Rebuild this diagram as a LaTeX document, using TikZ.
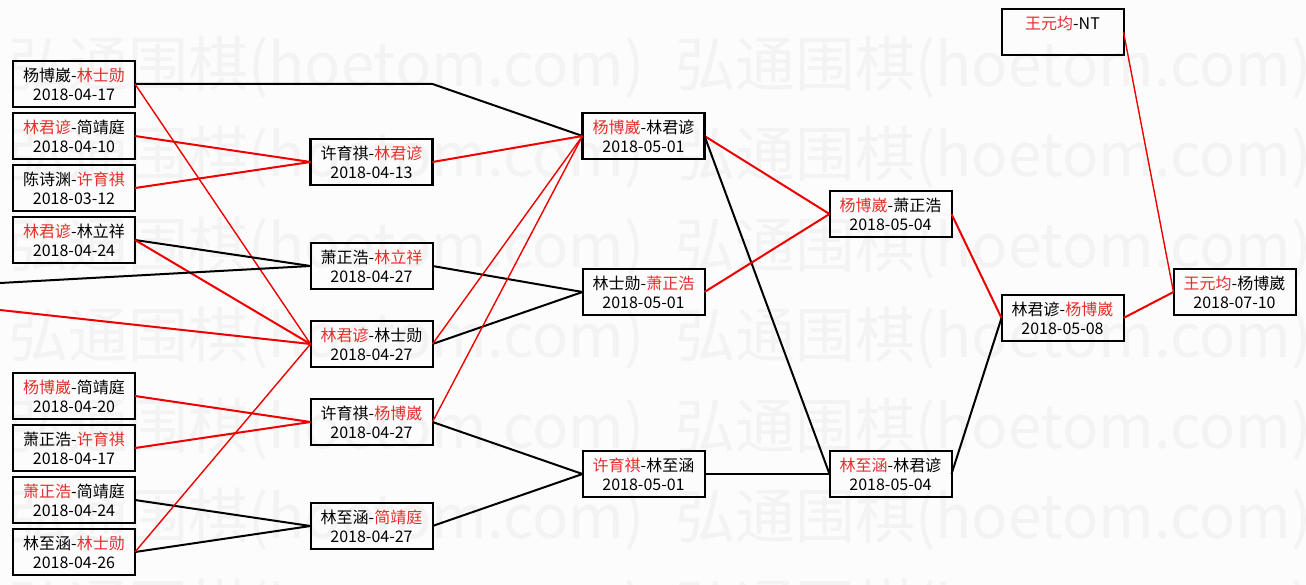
\documentclass[tikz,border=0pt]{standalone}
\usepackage{fontspec}
\setmainfont{Noto Sans CJK SC}
\usepackage{xcolor}
\usepackage{tikz}
\usetikzlibrary{positioning}
\definecolor{lineRed}{HTML}{EE0000}
\definecolor{nameRed}{HTML}{E62E2E}
\definecolor{paperGrey}{HTML}{FCFCFC}
\definecolor{markGrey}{HTML}{F3F3F3}
\newcommand\wn[1]{\textcolor{nameRed}{#1}}

\begin{document}
\begin{tikzpicture}[x=1pt,y=-1pt,
      node distance=6pt,
      game/.style={draw=black,line width=2pt,minimum width=122pt,minimum height=46pt,
        inner sep=0pt,outer sep=0pt,align=center,font=\fontsize{16}{19}\selectfont},
      gamebold/.style={game,line width=2.6pt},
      wmark/.style={anchor=west,inner sep=0pt,text=markGrey,font=\fontsize{60}{60}\selectfont},
      win/.style={draw=lineRed,line width=2pt},
      winthin/.style={draw=lineRed,line width=1.4pt},
      lose/.style={draw=black,line width=2pt}]
    \fill[paperGrey] (0,0) rectangle (1306,585);
    \useasboundingbox (0,0) rectangle (1306,585);
    \begin{scope}
      \clip (0,0) rectangle (1306,585);
      \foreach \r in {0,...,6}
        \foreach \c in {0,1}
          \node[wmark] (wm\r\c) at ({8+667*\c},{67+90.5*\r}) {弘通围棋(hoetom.com)};
    \end{scope}
    \node[gamebold] (a1) at (74,84) {杨博崴-\wn{林士勋}\\2018-04-17};
    \node[gamebold,below=of a1] (a2) {\wn{林君谚}-简靖庭\\2018-04-10};
    \node[gamebold,below=of a2] (a3) {陈诗渊-\wn{许育祺}\\2018-03-12};
    \node[gamebold,below=of a3] (a4) {\wn{林君谚}-林立祥\\2018-04-24};
    \node[game] (a5) at (74,396) {\wn{杨博崴}-简靖庭\\2018-04-20};
    \node[game,below=of a5] (a6) {萧正浩-\wn{许育祺}\\2018-04-17};
    \node[game,below=of a6] (a7) {\wn{萧正浩}-简靖庭\\2018-04-24};
    \node[game,below=of a7] (a8) {林至涵-\wn{林士勋}\\2018-04-26};
    \node[gamebold] (b1) at (371.5,162) {许育祺-\wn{林君谚}\\2018-04-13};
    \node[game] (b2) at (371.5,266) {萧正浩-\wn{林立祥}\\2018-04-27};
    \node[game] (b3) at (371.5,344) {\wn{林君谚}-林士勋\\2018-04-27};
    \node[game] (b4) at (371.5,422) {许育祺-\wn{杨博崴}\\2018-04-27};
    \node[game] (b5) at (371.5,526) {林至涵-\wn{简靖庭}\\2018-04-27};
    \node[gamebold] (c1) at (643.5,136) {\wn{杨博崴}-林君谚\\2018-05-01};
    \node[game] (c2) at (643.5,292) {林士勋-\wn{萧正浩}\\2018-05-01};
    \node[game] (c3) at (643.5,474) {\wn{许育祺}-林至涵\\2018-05-01};
    \node[game] (d1) at (890.5,214) {\wn{杨博崴}-萧正浩\\2018-05-04};
    \node[game] (d2) at (890.5,474) {\wn{林至涵}-林君谚\\2018-05-04};
    \node[game] (e0) at (1062.5,32) {\wn{王元均}-NT\\\phantom{2018-07-10}};
    \node[game] (e1) at (1062.5,318) {林君谚-\wn{杨博崴}\\2018-05-08};
    \node[game] (f1) at (1234.5,292) {\wn{王元均}-杨博崴\\2018-07-10};
    \coordinate (offk) at (0,283);
    \coordinate (offr) at (0,310);
    \draw[lose] (a1.east) -- (a1.east -| b1.east) -- (c1.west);
    \draw[winthin] (a1.east) -- (b3.west);
    \draw[win] (a2.east) -- (b1.west);
    \draw[win] (a3.east) -- (b1.west);
    \draw[lose] (a4.east) -- (b2.west);
    \draw[win] (a4.east) -- (b3.west);
    \draw[lose] (offk) -- (b2.west);
    \draw[win] (offr) -- (b3.west);
    \draw[win] (a5.east) -- (b4.west);
    \draw[win] (a6.east) -- (b4.west);
    \draw[lose] (a7.east) -- (b5.west);
    \draw[lose] (a8.east) -- (b5.west);
    \draw[winthin] (a8.east) -- (b3.west);
    \draw[win] (b1.east) -- (c1.west);
    \draw[lose] (b2.east) -- (c2.west);
    \draw[lose] (b3.east) -- (c2.west);
    \draw[winthin] (b3.east) -- (c1.west);
    \draw[winthin] (b4.east) -- (c1.west);
    \draw[lose] (b4.east) -- (c3.west);
    \draw[lose] (b5.east) -- (c3.west);
    \draw[win] (c1.east) -- (d1.west);
    \draw[lose] (c1.east) -- (d2.west);
    \draw[win] (c2.east) -- (d1.west);
    \draw[lose] (c3.east) -- (d2.west);
    \draw[win] (d1.east) -- (e1.west);
    \draw[lose] (d2.east) -- (e1.west);
    \draw[win] (e1.east) -- (f1.west);
    \draw[winthin] (e0.east) -- (f1.west);
  \end{tikzpicture}
\end{document}
